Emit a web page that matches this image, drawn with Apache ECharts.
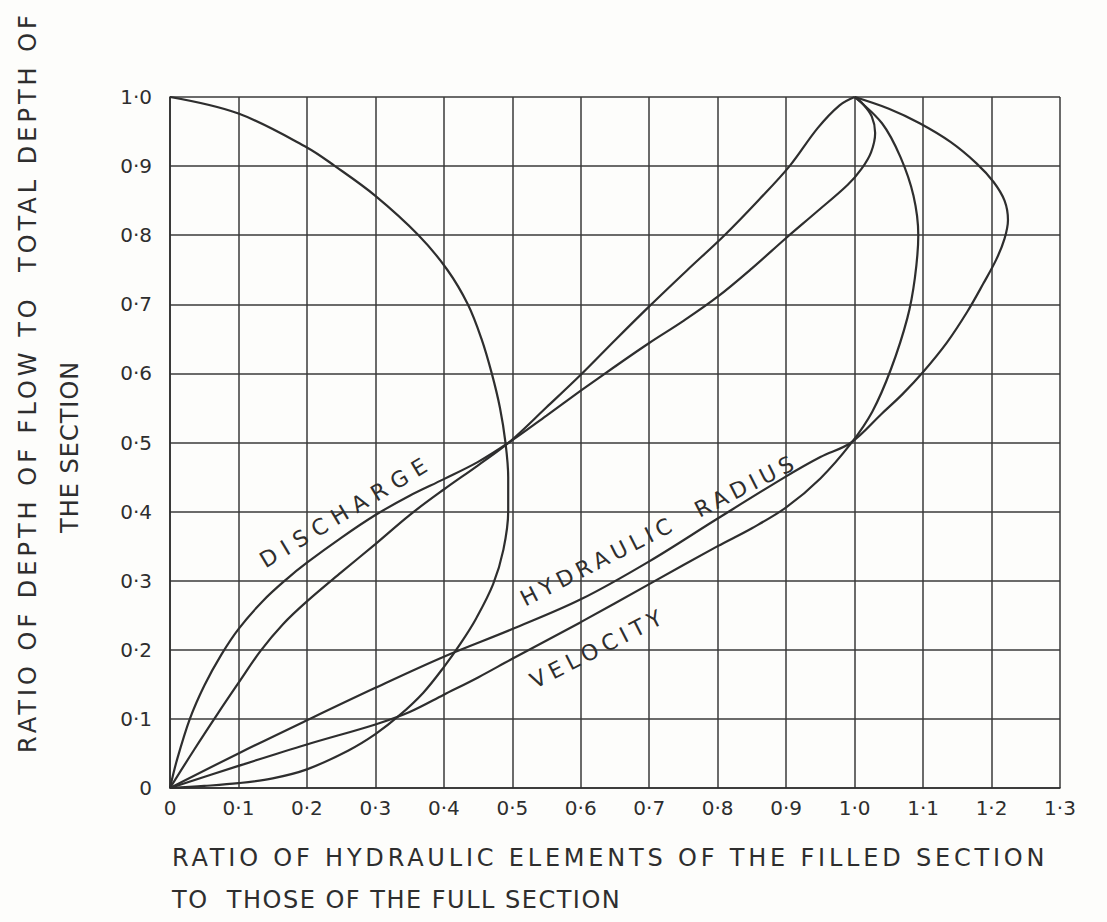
<!DOCTYPE html>
<html>
<head>
<meta charset="utf-8">
<script src="https://cdn.jsdelivr.net/npm/echarts@6/dist/echarts.min.js"></script>
<style>
html,body{margin:0;padding:0;background:#fdfdfb;}
#chart{width:1107px;height:922px;}
</style>
</head>
<body>
<div id="chart"></div>
<script>
// Tick labels (raised decimal point as in the original)
const xTickLabels = ['0','0·1','0·2','0·3','0·4','0·5','0·6','0·7','0·8','0·9','1·0','1·1','1·2','1·3'];
const yTickLabels = ['0','0·1','0·2','0·3','0·4','0·5','0·6','0·7','0·8','0·9','1·0'];

// Curves: [ratio of hydraulic element, ratio of depth]
const arcCurve = [[0,1.0],[0.1,0.976],[0.2,0.927],[0.241,0.9],[0.3,0.857],[0.363,0.8],[0.405,0.75],[0.435,0.7],[0.455,0.65],[0.47,0.6],[0.482,0.55],[0.49,0.5],[0.494,0.45],[0.494,0.4],[0.487,0.345],[0.472,0.295],[0.447,0.245],[0.425,0.21],[0.4,0.175],[0.37,0.138],[0.335,0.105],[0.3,0.078],[0.26,0.054],[0.2,0.027],[0.15,0.014],[0.1,0.007],[0.05,0.003],[0,0]];
const dischargeCurve = [[0,0],[0.01,0.04],[0.029,0.1],[0.05,0.148],[0.075,0.193],[0.1,0.23],[0.135,0.27],[0.17,0.302],[0.2,0.326],[0.25,0.362],[0.3,0.395],[0.35,0.423],[0.4,0.447],[0.45,0.472],[0.495,0.5],[0.55,0.539],[0.6,0.575],[0.65,0.61],[0.7,0.644],[0.75,0.676],[0.8,0.711],[0.85,0.752],[0.9,0.796],[0.946,0.835],[0.99,0.873],[1.01,0.896],[1.024,0.92],[1.03,0.948],[1.025,0.972],[1.012,0.99],[1.0,1.0]];
const areaCurve = [[0,0],[0.035,0.055],[0.07,0.108],[0.1,0.152],[0.132,0.198],[0.165,0.237],[0.2,0.27],[0.25,0.312],[0.3,0.353],[0.35,0.395],[0.4,0.432],[0.45,0.467],[0.495,0.5],[0.55,0.551],[0.6,0.598],[0.65,0.648],[0.7,0.697],[0.755,0.749],[0.81,0.8],[0.86,0.851],[0.905,0.9],[0.946,0.955],[0.978,0.988],[1.0,1.0]];
const hydraulicRadiusCurve = [[0,0],[0.1,0.05],[0.2,0.098],[0.3,0.145],[0.4,0.19],[0.5,0.23],[0.6,0.273],[0.7,0.328],[0.8,0.39],[0.9,0.451],[0.95,0.479],[0.995,0.5],[1.04,0.542],[1.07,0.57],[1.1,0.602],[1.135,0.645],[1.165,0.69],[1.188,0.73],[1.207,0.765],[1.219,0.795],[1.224,0.822],[1.219,0.85],[1.203,0.877],[1.178,0.904],[1.14,0.935],[1.095,0.962],[1.05,0.983],[1.0,1.0]];
const velocityCurve = [[0,0],[0.1,0.032],[0.2,0.063],[0.3,0.092],[0.35,0.11],[0.4,0.135],[0.45,0.16],[0.5,0.187],[0.6,0.24],[0.7,0.295],[0.8,0.35],[0.85,0.376],[0.9,0.406],[0.95,0.448],[0.995,0.499],[1.026,0.545],[1.053,0.606],[1.077,0.68],[1.088,0.738],[1.093,0.8],[1.086,0.857],[1.067,0.913],[1.04,0.962],[1.0,1.0]];

// Curve labels: text, start anchor in data coords, rotation (deg), letter spacing
const curveLabels = [
  {text:'DISCHARGE', at:[0.134,0.327], rot:31, ls:'7.5px'},
  {text:'HYDRAULIC  RADIUS', at:[0.514,0.272], rot:27, ls:'5px'},
  {text:'VELOCITY', at:[0.528,0.153], rot:27, ls:'5.5px'}
];

const xTitle1 = 'RATIO OF HYDRAULIC ELEMENTS OF THE FILLED SECTION';
const xTitle2 = 'TO  THOSE OF THE FULL SECTION';
const yTitle1 = 'RATIO OF DEPTH OF FLOW TO  TOTAL DEPTH OF';
const yTitle2 = 'THE SECTION';

const ink = '#2e2e2e';
const font = 'DejaVu Sans';

const chart = echarts.init(document.getElementById('chart'), null, {renderer:'svg'});
function curve(name, data){
  return {name, type:'line', data, smooth:0.35, symbol:'none', animation:false,
    lineStyle:{color:ink, width:2.2}, z:3};
}
const option = {
  backgroundColor:'#fdfdfb',
  animation:false,
  grid:{left:170, right:47, top:97, bottom:134},
  xAxis:{type:'value', min:0, max:1.3, interval:0.1,
    axisLine:{show:true, lineStyle:{color:ink, width:1.6}},
    axisTick:{show:false},
    splitLine:{show:true, lineStyle:{color:'#3a3a3a', width:1.5}},
    axisLabel:{color:ink, fontFamily:font, fontSize:20, margin:10,
      formatter:v=>xTickLabels[Math.round(v*10)]}},
  yAxis:{type:'value', min:0, max:1.0, interval:0.1,
    axisLine:{show:true, lineStyle:{color:ink, width:1.6}},
    axisTick:{show:false},
    splitLine:{show:true, lineStyle:{color:'#3a3a3a', width:1.5}},
    axisLabel:{color:ink, fontFamily:font, fontSize:20, margin:18,
      formatter:v=>yTickLabels[Math.round(v*10)]}},
  series:[
    curve('Partial-depth curve', arcCurve),
    curve('Discharge', dischargeCurve),
    curve('Area', areaCurve),
    curve('Hydraulic radius', hydraulicRadiusCurve),
    curve('Velocity', velocityCurve)
  ]
};
chart.setOption(option);

// letter spacing per text (applied to the SVG text nodes)
const spacing = {};
const graphics = [];
curveLabels.forEach(l=>{
  const p = chart.convertToPixel({gridIndex:0}, l.at);
  spacing[l.text] = l.ls;
  graphics.push({type:'text', x:p[0], y:p[1], rotation:l.rot*Math.PI/180, z:10,
    style:{text:l.text, fill:ink, font:'22px "'+font+'"', align:'left', verticalAlign:'middle'}});
});
spacing[xTitle1] = '3.8px';
spacing[xTitle2] = '1.5px';
spacing[yTitle1] = '4px';
spacing[yTitle2] = '1px';
graphics.push({type:'text', x:172, y:858, style:{text:xTitle1, fill:ink, font:'24px "'+font+'"', align:'left', verticalAlign:'middle'}});
graphics.push({type:'text', x:172, y:900, style:{text:xTitle2, fill:ink, font:'24px "'+font+'"', align:'left', verticalAlign:'middle'}});
graphics.push({type:'text', x:28, y:753, rotation:Math.PI/2, style:{text:yTitle1, fill:ink, font:'24px "'+font+'"', align:'left', verticalAlign:'middle'}});
graphics.push({type:'text', x:70, y:533, rotation:Math.PI/2, style:{text:yTitle2, fill:ink, font:'24px "'+font+'"', align:'left', verticalAlign:'middle'}});
chart.setOption({graphic:graphics});

function applySpacing(){
  document.querySelectorAll('#chart text').forEach(t=>{
    const s = spacing[t.textContent];
    if (s) t.style.letterSpacing = s;
  });
}
applySpacing();
chart.on('finished', applySpacing);
</script>
</body>
</html>
